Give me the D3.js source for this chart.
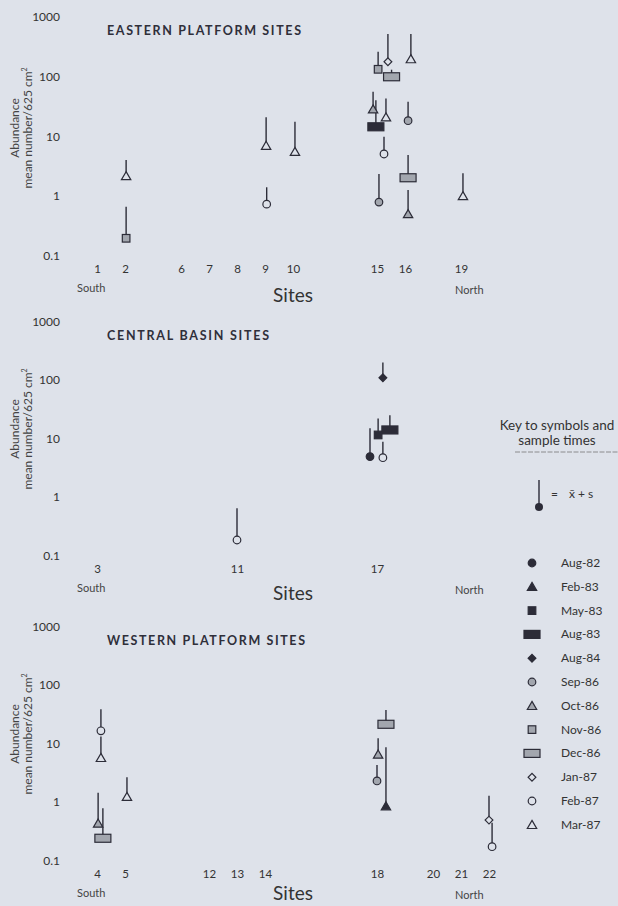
<!DOCTYPE html>
<html>
<head>
<meta charset="utf-8">
<script src="https://cdn.jsdelivr.net/npm/d3@7"></script>
<style>
  body { margin: 0; background: #dee2ea; }
  svg { display: block; font-family: Lato, "Open Sans", sans-serif; }
</style>
</head>
<body>
<svg></svg>
<script>
// sample times in legend order
const sampleTimes = ["Aug-82", "Feb-83", "May-83", "Aug-83", "Aug-84", "Sep-86",
                     "Oct-86", "Nov-86", "Dec-86", "Jan-87", "Feb-87", "Mar-87"];

const yTickValues = [0.1, 1, 10, 100, 1000];
const yTickLabels = ["0.1", "1", "10", "100", "1000"];

// sites and their slot along the south-north axis
const eastSites = ["1", "2", "6", "7", "8", "9", "10", "15", "16", "19"];
const eastSlots = [0, 1, 3, 4, 5, 6, 7, 10, 11, 13];
const centralSites = ["3", "11", "17"];
const centralSlots = [0, 5, 10];
const westSites = ["4", "5", "12", "13", "14", "18", "20", "21", "22"];
const westSlots = [0, 1, 4, 5, 6, 10, 12, 13, 14];

// [site slot + small shift, sample time, mean, mean + s]
const eastPoints = [
    [1.04, "Mar-87", 2.16, 4.0],
    [1.04, "Nov-86", 0.196, 0.66],
    [6.04, "Mar-87", 6.95, 20.7],
    [6.06, "Feb-87", 0.73, 1.4],
    [7.07, "Mar-87", 5.5, 17.5],
    [10.04, "Nov-86", 132, 260],
    [10.52, "Dec-86", 99, 130],
    [10.39, "Jan-87", 177, 514],
    [9.86, "Oct-86", 28.3, 55.7],
    [10.32, "Mar-87", 20.8, 43],
    [9.96, "Aug-83", 14.4, 40],
    [10.25, "Feb-87", 5.05, 9.8],
    [10.07, "Sep-86", 0.79, 2.33],
    [11.21, "Mar-87", 196, 514],
    [11.11, "Sep-86", 18.2, 37.9],
    [11.11, "Dec-86", 2.02, 4.85],
    [11.11, "Oct-86", 0.5, 1.26],
    [13.07, "Mar-87", 1.0, 2.4]
];
const centralPoints = [
    [5.0, "Feb-87", 0.184, 0.64],
    [10.21, "Aug-84", 109, 200],
    [10.04, "May-83", 11.5, 22],
    [10.46, "Aug-83", 14, 25],
    [9.75, "Aug-82", 4.9, 14.9],
    [10.21, "Feb-87", 4.7, 8.8]
];
const westPoints = [
    [0.14, "Feb-87", 16.5, 38.5],
    [0.14, "Mar-87", 5.7, 13.2],
    [0.04, "Oct-86", 0.43, 1.44],
    [0.21, "Dec-86", 0.24, 0.78],
    [1.07, "Mar-87", 1.23, 2.64],
    [10.32, "Dec-86", 21.3, 37.4],
    [10.04, "Oct-86", 6.5, 12.3],
    [10.0, "Sep-86", 2.29, 4.3],
    [10.32, "Feb-83", 0.85, 8.6],
    [14.0, "Jan-87", 0.49, 1.28],
    [14.11, "Feb-87", 0.172, 0.44]
];

const dark = "#2c2c38";
const grey = "#a2a6ae";
const bg = "#dee2ea";

let svg = d3.select("svg").attr("width", 618).attr("height", 906);

let x = d3.scaleLinear().domain([0, 14]).range([97, 489]);

const panels = [
    { title: "EASTERN PLATFORM SITES", titleW: 194, sites: eastSites, slots: eastSlots, points: eastPoints, yOne: 196, dec: 59.75, sitesY: 46 },
    { title: "CENTRAL BASIN SITES", titleW: 162, sites: centralSites, slots: centralSlots, points: centralPoints, yOne: 497, dec: 58.5, sitesY: 44 },
    { title: "WESTERN PLATFORM SITES", titleW: 198, sites: westSites, slots: westSlots, points: westPoints, yOne: 802, dec: 58.5, sitesY: 39 }
];

const shapeOf = ["circle", "triangle", "square", "rect", "diamond",
                 "circle", "triangle", "square", "rect",
                 "diamond", "circle", "triangle"];

function drawSymbol(g, time, cx, cy) {
    let i = sampleTimes.indexOf(time);
    let fill = i < 5 ? dark : (i < 9 ? grey : bg);
    let kind = shapeOf[i];
    let s;
    if (kind == "circle") {
        s = g.append("circle").attr("cx", cx).attr("cy", cy).attr("r", 3.8);
    } else if (kind == "triangle") {
        s = g.append("path").attr("d", d3.symbol(d3.symbolTriangle, 38)())
            .attr("transform", `translate(${cx},${cy + 1})`);
    } else if (kind == "diamond") {
        s = g.append("path").attr("d", d3.symbol(d3.symbolSquare, 30)())
            .attr("transform", `translate(${cx},${cy}) rotate(45)`);
    } else if (kind == "square") {
        s = g.append("rect").attr("x", cx - 3.8).attr("y", cy - 3.8).attr("width", 7.6).attr("height", 7.6);
    } else {
        s = g.append("rect").attr("x", cx - 8).attr("y", cy - 4).attr("width", 16).attr("height", 8);
    }
    s.style("fill", fill).style("stroke", dark).style("stroke-width", 1.2);
    return s;
}

panels.forEach((p) => {
    let y = d3.scaleLog().domain([0.1, 1000]).range([p.yOne + p.dec, p.yOne - 3 * p.dec]);
    let g = svg.append("g");

    // y axis labels
    let yAxis = d3.axisLeft(y).tickValues(yTickValues).tickSize(0).tickPadding(2)
        .tickFormat((d, i) => yTickLabels[i]);
    g.append("g").attr("transform", "translate(62,0)").call(yAxis)
        .call((a) => a.select(".domain").remove())
        .selectAll("text").style("font-size", "12px").style("fill", "#333").style("font-family", "Lato");

    // site labels
    let xAxis = d3.axisBottom(x).tickValues(p.slots).tickSize(0).tickPadding(0)
        .tickFormat((d, i) => p.sites[i]);
    g.append("g").attr("transform", `translate(0,${y(0.1) + 9})`).call(xAxis)
        .call((a) => a.select(".domain").remove())
        .selectAll("text").style("font-size", "11.5px").style("fill", "#333").style("font-family", "Lato");

    // axis titles
    let yt = g.append("g").attr("transform", `translate(0,${p.yOne - 68}) rotate(-90)`)
        .style("font-size", "12px").style("fill", "#444").attr("text-anchor", "middle");
    yt.append("text").attr("x", 0).attr("y", 19).text("Abundance");
    let t2 = yt.append("text").attr("x", 0).attr("y", 32);
    t2.append("tspan").text("mean number/625 cm");
    t2.append("tspan").attr("dy", -5).style("font-size", "7px").text("2");

    g.append("text").attr("x", 77).attr("y", y(0.1) + 36).text("South")
        .style("font-size", "11px").style("fill", "#444");
    g.append("text").attr("x", 455).attr("y", y(0.1) + 38).text("North")
        .style("font-size", "11px").style("fill", "#444");
    g.append("text").attr("x", 293).attr("y", y(0.1) + p.sitesY).attr("text-anchor", "middle").text("Sites")
        .style("font-size", "19px").style("fill", "#333");

    g.append("text").attr("x", 107).attr("y", y(1000) + 18).text(p.title)
        .attr("textLength", p.titleW).attr("lengthAdjust", "spacing")
        .style("font-size", "12.5px").style("font-weight", "bold").style("fill", "#2f2f3a");

    // mean + s lines then symbols
    p.points.forEach((d) => {
        g.append("line")
            .attr("x1", x(d[0])).attr("x2", x(d[0]))
            .attr("y1", y(d[2])).attr("y2", y(d[3]))
            .style("stroke", dark).style("stroke-width", 1.4);
    });
    p.points.forEach((d) => {
        drawSymbol(g, d[1], x(d[0]), y(d[2]));
    });
});

// key
let key = svg.append("g").style("fill", "#333");
key.append("text").attr("x", 557).attr("y", 430).attr("text-anchor", "middle")
    .style("font-size", "13.5px").text("Key to symbols and");
key.append("text").attr("x", 557).attr("y", 445).attr("text-anchor", "middle")
    .style("font-size", "13.5px").text("sample times");
key.append("line").attr("x1", 515).attr("x2", 618).attr("y1", 452).attr("y2", 452)
    .style("stroke", "#777").style("stroke-width", 0.8).style("stroke-dasharray", "5,1.5");
key.append("line").attr("x1", 539).attr("x2", 539).attr("y1", 480).attr("y2", 507)
    .style("stroke", dark).style("stroke-width", 1.4);
key.append("circle").attr("cx", 539).attr("cy", 507).attr("r", 4).style("fill", dark);
key.append("text").attr("x", 551).attr("y", 498).style("font-size", "12px").text("=");
key.append("text").attr("x", 569).attr("y", 498).style("font-size", "12px").text("x\u0304 + s");

sampleTimes.forEach((t, i) => {
    let cy = 563 + i * 23.8;
    drawSymbol(key, t, 532, cy);
    key.append("text").attr("x", 561).attr("y", cy + 4).style("font-size", "12px").text(t);
});
</script>
</body>
</html>
